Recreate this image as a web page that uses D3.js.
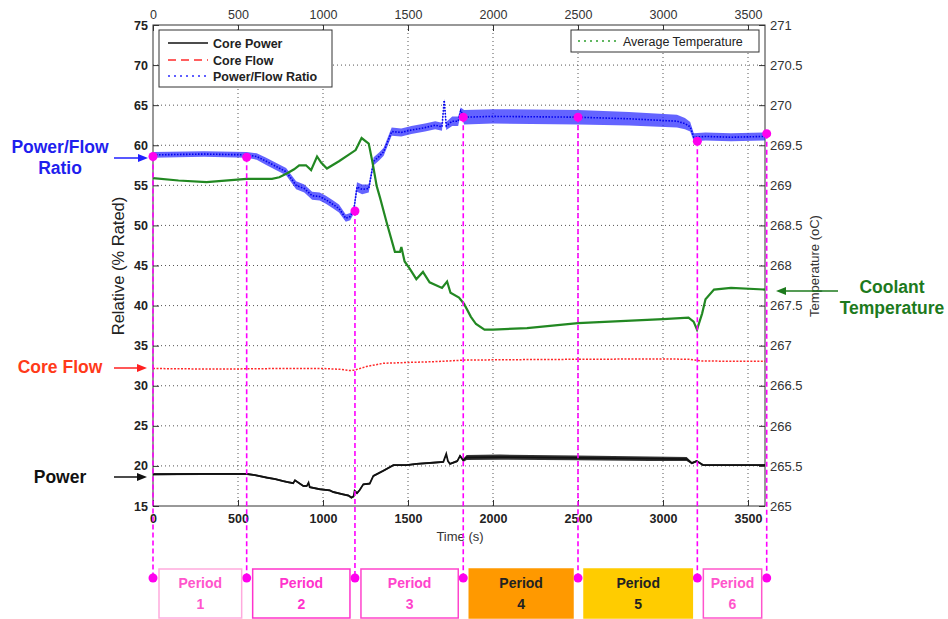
<!DOCTYPE html>
<html>
<head>
<meta charset="utf-8">
<script src="https://cdn.jsdelivr.net/npm/d3@7"></script>
<style>
body { margin: 0; background: #fff; }
text { font-family: "Liberation Sans", Arial, sans-serif; }
</style>
</head>
<body>
<div id="chart"></div>
<script>
// values
// time axis in seconds, left axis in % rated, right axis in deg C

var xTicks = [0, 500, 1000, 1500, 2000, 2500, 3000, 3500];
var leftTicks = [15, 20, 25, 30, 35, 40, 45, 50, 55, 60, 65, 70, 75];
var rightTicks = [265, 265.5, 266, 266.5, 267, 267.5, 268, 268.5, 269, 269.5, 270, 270.5, 271];

// Core Power (black)
var powerT = [0, 300, 551, 600, 668, 720, 766, 800, 825, 835, 884, 905, 915, 922, 980, 1040, 1059, 1118, 1150, 1167,
              1180, 1186, 1200, 1216, 1237, 1275, 1296, 1355, 1414, 1492, 1551, 1649, 1708, 1725, 1735, 1747, 1790, 1806, 1825, 1845,
              2040, 2492, 2923, 3139, 3170, 3198, 3236, 3600];
var powerV = [18.96, 19.0, 19.0, 18.85, 18.55, 18.35, 18.1, 17.95, 17.85, 18.2, 17.5, 17.5, 17.9, 17.35, 17.1, 16.95, 16.75, 16.45, 16.3, 16.05,
              16.2, 16.9, 16.6, 17.0, 17.7, 17.8, 18.75, 19.4, 20.1, 20.1, 20.25, 20.4, 20.5, 21.5, 20.6, 20.25, 20.6, 21.25, 20.7, 21.05,
              21.1, 21.0, 20.9, 20.85, 20.35, 20.6, 20.1, 20.1];
var powerSpread = [0.12, 0.12, 0.12, 0.12, 0.12, 0.12, 0.12, 0.12, 0.12, 0.12, 0.12, 0.12, 0.12, 0.12, 0.12, 0.12, 0.12, 0.12, 0.12, 0.12,
                   0.12, 0.12, 0.12, 0.12, 0.12, 0.12, 0.12, 0.12, 0.12, 0.12, 0.12, 0.12, 0.12, 0.12, 0.12, 0.12, 0.15, 0.15, 0.2, 0.3,
                   0.32, 0.3, 0.28, 0.25, 0.15, 0.12, 0.12, 0.12];

// Core Flow (red)
var flowT = [0, 250, 490, 750, 1000, 1100, 1157, 1186, 1255, 1355, 1492, 1649, 1745, 1835, 2100, 2500, 3002, 3159, 3218, 3400, 3600];
var flowV = [32.15, 32.1, 32.1, 32.15, 32.15, 32.05, 31.9, 31.95, 32.4, 32.8, 32.9, 33.0, 33.1, 33.2, 33.25, 33.3, 33.35, 33.3, 33.1, 33.05, 33.05];

// Power/Flow Ratio (blue)
var ratioT = [0, 300, 551, 610, 666, 720, 783, 842, 890, 936, 980, 1017, 1060, 1094, 1134, 1160, 1181, 1200, 1230, 1269,
              1298, 1330, 1357, 1404, 1460, 1520, 1600, 1660, 1700, 1713, 1725, 1760, 1795, 1810, 1830, 2000, 2500, 2800, 3082, 3129,
              3160, 3181, 3250, 3400, 3600];
var ratioV = [58.8, 58.9, 58.8, 58.6, 58.0, 57.4, 56.7, 55.0, 54.6, 53.7, 53.6, 53.2, 52.6, 52.1, 50.9, 51.1, 51.9, 54.8, 54.5, 54.6,
              58.0, 58.6, 59.2, 61.7, 61.6, 61.9, 62.2, 62.5, 62.3, 65.6, 62.4, 63.0, 63.0, 64.3, 63.5, 63.6, 63.5, 63.3, 63.0, 62.7,
              62.3, 61.0, 61.1, 61.0, 61.1];
var ratioSpread = [0.35, 0.35, 0.35, 0.4, 0.45, 0.45, 0.45, 0.5, 0.5, 0.5, 0.5, 0.5, 0.5, 0.5, 0.45, 0.45, 0.45, 0.6, 0.6, 0.5,
                   0.5, 0.5, 0.5, 0.5, 0.5, 0.5, 0.5, 0.5, 0.5, 0.2, 0.5, 0.6, 0.6, 0.4, 0.9, 0.9, 0.9, 0.85, 0.8, 0.7,
                   0.6, 0.5, 0.5, 0.5, 0.5];

// Average Temperature (green, right axis)
var tempT = [0, 150, 315, 550, 700, 743, 790, 830, 860, 900, 930, 965, 990, 1023, 1094, 1150, 1192, 1227, 1269, 1290,
             1316, 1335, 1374, 1423, 1453, 1461, 1480, 1510, 1549, 1588, 1600, 1627, 1700, 1730, 1750, 1800, 1830, 1870, 1900, 1950,
             2000, 2200, 2500, 3000, 3150, 3180, 3200, 3230, 3250, 3300, 3400, 3600];
var tempV = [269.09, 269.06, 269.04, 269.08, 269.08, 269.1, 269.15, 269.2, 269.25, 269.25, 269.19, 269.36, 269.28, 269.21, 269.3, 269.38, 269.44, 269.59, 269.52, 269.3,
             268.99, 268.85, 268.54, 268.17, 268.17, 268.23, 268.05, 267.96, 267.83, 267.92, 267.88, 267.79, 267.72, 267.8, 267.66, 267.6, 267.52, 267.36, 267.27, 267.2,
             267.2, 267.22, 267.28, 267.33, 267.35, 267.3, 267.2, 267.4, 267.58, 267.7, 267.72, 267.7];

// period boundaries and the marker value on the ratio curve
var periodT = [0, 551, 1188, 1825, 2500, 3202, 3610];
var periodDotV = [58.6, 58.5, 51.8, 63.5, 63.5, 60.5, 61.45];
var periodNames = ["1", "2", "3", "4", "5", "6"];
var periodFill = ["#ffffff", "#ffffff", "#ffffff", "#ff9900", "#ffcc00", "#ffffff"];
var periodStroke = ["#ffaadd", "#ff33cc", "#ff44cc", "#ff9900", "#ffcc00", "#ff55cc"];
var periodText = ["#ff55cc", "#ff33cc", "#ff44cc", "#222222", "#222222", "#ff55cc"];

// canvas
var svgWidth = 948;
var svgHeight = 619;
var plot = { left: 153, right: 765, top: 25, bottom: 506 };

var svg = d3.select("#chart")
    .append("svg")
    .attr("width", svgWidth)
    .attr("height", svgHeight);

var xScale = d3.scaleLinear().domain([0, 3600]).range([plot.left, plot.right]);
var yLeft = d3.scaleLinear().domain([15, 75]).range([plot.bottom, plot.top]);
var yRight = d3.scaleLinear().domain([265, 271]).range([plot.bottom, plot.top]);

// grid
var grid = svg.append("g").attr("class", "grid")
    .attr("stroke", "#555").attr("stroke-width", 1).attr("stroke-dasharray", "1,3");
grid.selectAll(".vg").data(xTicks.slice(1)).enter().append("line")
    .attr("x1", d => xScale(d)).attr("x2", d => xScale(d))
    .attr("y1", plot.top).attr("y2", plot.bottom);
grid.selectAll(".hg").data(leftTicks.slice(1, -1)).enter().append("line")
    .attr("x1", plot.left).attr("x2", plot.right)
    .attr("y1", d => yLeft(d)).attr("y2", d => yLeft(d));

// axes
var plain = d3.format("");

var axisBottom = svg.append("g")
    .attr("transform", `translate(0, ${plot.bottom})`)
    .call(d3.axisBottom(xScale).tickValues(xTicks).tickFormat(plain).tickSize(-6).tickPadding(8));
axisBottom.selectAll("text").attr("font-size", 12.5).attr("font-weight", "bold").attr("fill", "#222");

var axisTop = svg.append("g")
    .attr("transform", `translate(0, ${plot.top})`)
    .call(d3.axisTop(xScale).tickValues(xTicks).tickFormat(plain).tickSize(-6).tickPadding(6));
axisTop.selectAll("text").attr("font-size", 12.5).attr("fill", "#333");

var axisLeft = svg.append("g")
    .attr("transform", `translate(${plot.left}, 0)`)
    .call(d3.axisLeft(yLeft).tickValues(leftTicks).tickSize(-6).tickPadding(5));
axisLeft.selectAll("text").attr("font-size", 12.5).attr("font-weight", "bold").attr("fill", "#222");

var axisRight = svg.append("g")
    .attr("transform", `translate(${plot.right}, 0)`)
    .call(d3.axisRight(yRight).tickValues(rightTicks).tickFormat(plain).tickSize(-6).tickPadding(5));
axisRight.selectAll("text").attr("font-size", 13).attr("fill", "#333");

svg.selectAll(".domain").remove();
svg.selectAll(".tick line").attr("stroke", "#333");

svg.append("rect")
    .attr("x", plot.left).attr("y", plot.top)
    .attr("width", plot.right - plot.left).attr("height", plot.bottom - plot.top)
    .attr("fill", "none").attr("stroke", "#333").attr("stroke-width", 1);

// axis titles
svg.append("text").attr("x", 460).attr("y", 541).attr("text-anchor", "middle")
    .attr("font-size", 13).attr("fill", "#333").text("Time (s)");
svg.append("text").attr("transform", "translate(124, 266) rotate(-90)").attr("text-anchor", "middle")
    .attr("font-size", 16.5).attr("fill", "#222").text("Relative (% Rated)");
svg.append("text").attr("transform", "translate(819, 266) rotate(-90)").attr("text-anchor", "middle")
    .attr("font-size", 13).attr("fill", "#333").text("Temperature (oC)");

// series
var ratioData = ratioT.map((t, i) => ({ t: t, v: ratioV[i], s: ratioSpread[i] }));
var powerData = powerT.map((t, i) => ({ t: t, v: powerV[i], s: powerSpread[i] }));
var flowData = flowT.map((t, i) => ({ t: t, v: flowV[i] }));
var tempData = tempT.map((t, i) => ({ t: t, v: tempV[i] }));

var band = d3.area()
    .x(d => xScale(d.t))
    .y0(d => yLeft(d.v - d.s))
    .y1(d => yLeft(d.v + d.s));
var leftLine = d3.line().x(d => xScale(d.t)).y(d => yLeft(d.v));
var rightLine = d3.line().x(d => xScale(d.t)).y(d => yRight(d.v));

svg.append("path").datum(ratioData).attr("d", band)
    .attr("fill", "#2222ff").attr("fill-opacity", 0.7);
svg.append("path").datum(ratioData).attr("d", leftLine)
    .attr("fill", "none").attr("stroke", "#0000ee").attr("stroke-width", 1.6).attr("stroke-dasharray", "1.5,1.5");

svg.append("path").datum(tempData).attr("d", rightLine)
    .attr("fill", "none").attr("stroke", "#228822").attr("stroke-width", 2.2);

svg.append("path").datum(flowData).attr("d", leftLine)
    .attr("fill", "none").attr("stroke", "#ff2a2a").attr("stroke-width", 1.5).attr("stroke-dasharray", "2,1.5");

svg.append("path").datum(powerData).attr("d", band)
    .attr("fill", "#111").attr("fill-opacity", 0.85);
svg.append("path").datum(powerData).attr("d", leftLine)
    .attr("fill", "none").attr("stroke", "#111").attr("stroke-width", 1.8);

// legends
var leg1 = svg.append("g");
leg1.append("rect").attr("x", 159).attr("y", 30).attr("width", 173).attr("height", 57)
    .attr("fill", "#fff").attr("stroke", "#333");
var legItems = [
    { label: "Core Power", color: "#111", dash: null, y: 43 },
    { label: "Core Flow", color: "#ff2a2a", dash: "8,5", y: 60 },
    { label: "Power/Flow Ratio", color: "#2a2aff", dash: "2,4", y: 76 }
];
legItems.forEach(function(d) {
    leg1.append("line").attr("x1", 168).attr("x2", 208).attr("y1", d.y).attr("y2", d.y)
        .attr("stroke", d.color).attr("stroke-width", 1.6).attr("stroke-dasharray", d.dash);
    leg1.append("text").attr("x", 213).attr("y", d.y + 4.5)
        .attr("font-size", 12.5).attr("font-weight", "bold").attr("fill", "#222").text(d.label);
});

var leg2 = svg.append("g");
leg2.append("rect").attr("x", 571).attr("y", 30).attr("width", 188).attr("height", 22)
    .attr("fill", "#fff").attr("stroke", "#333");
leg2.append("line").attr("x1", 578).attr("x2", 618).attr("y1", 41).attr("y2", 41)
    .attr("stroke", "#2ea02e").attr("stroke-width", 1.5).attr("stroke-dasharray", "2,4");
leg2.append("text").attr("x", 623).attr("y", 45.5)
    .attr("font-size", 12.5).attr("fill", "#222").text("Average Temperature");

// period markers
var dotBottom = 578;
svg.selectAll(".pline").data(periodT).enter().append("line")
    .attr("x1", d => xScale(d)).attr("x2", d => xScale(d))
    .attr("y1", (d, i) => yLeft(periodDotV[i])).attr("y2", dotBottom)
    .attr("stroke", "#ff00ff").attr("stroke-width", 1.6).attr("stroke-dasharray", "5,3");
svg.selectAll(".pdot").data(periodT).enter().append("circle")
    .attr("cx", d => xScale(d)).attr("cy", (d, i) => yLeft(periodDotV[i])).attr("r", 4.5)
    .attr("fill", "#ff00ee");
svg.selectAll(".bdot").data(periodT).enter().append("circle")
    .attr("cx", d => xScale(d)).attr("cy", dotBottom).attr("r", 4.5)
    .attr("fill", "#ff00ee");

var boxes = svg.selectAll(".pbox").data(periodNames).enter().append("g");
boxes.append("rect")
    .attr("x", (d, i) => xScale(periodT[i]) + 6)
    .attr("y", 569)
    .attr("width", (d, i) => xScale(periodT[i + 1]) - xScale(periodT[i]) - 11)
    .attr("height", 49)
    .attr("fill", (d, i) => periodFill[i])
    .attr("stroke", (d, i) => periodStroke[i]).attr("stroke-width", 1.5);
boxes.append("text")
    .attr("x", (d, i) => (xScale(periodT[i]) + xScale(periodT[i + 1])) / 2 + 0.5)
    .attr("y", 588).attr("text-anchor", "middle")
    .attr("font-size", 14).attr("font-weight", "bold")
    .attr("fill", (d, i) => periodText[i]).text("Period");
boxes.append("text")
    .attr("x", (d, i) => (xScale(periodT[i]) + xScale(periodT[i + 1])) / 2 + 0.5)
    .attr("y", 609).attr("text-anchor", "middle")
    .attr("font-size", 14).attr("font-weight", "bold")
    .attr("fill", (d, i) => periodText[i]).text(d => d);

// side annotations with arrows
function arrow(x1, x2, y, color) {
    var dir = x2 > x1 ? 1 : -1;
    svg.append("line").attr("x1", x1).attr("x2", x2 - dir * 8).attr("y1", y).attr("y2", y)
        .attr("stroke", color).attr("stroke-width", 1.5);
    svg.append("path")
        .attr("d", `M${x2},${y} L${x2 - dir * 10},${y - 4} L${x2 - dir * 10},${y + 4} Z`)
        .attr("fill", color);
}

svg.append("text").attr("x", 60).attr("y", 153).attr("text-anchor", "middle")
    .attr("font-size", 17.5).attr("font-weight", "bold").attr("fill", "#1f1fee").text("Power/Flow");
svg.append("text").attr("x", 60).attr("y", 174).attr("text-anchor", "middle")
    .attr("font-size", 17.5).attr("font-weight", "bold").attr("fill", "#1f1fee").text("Ratio");
arrow(114, 148, 158, "#2020ff");

svg.append("text").attr("x", 60).attr("y", 373).attr("text-anchor", "middle")
    .attr("font-size", 17.5).attr("font-weight", "bold").attr("fill", "#ff3a1a").text("Core Flow");
arrow(114, 147, 368, "#ff2020");

svg.append("text").attr("x", 60).attr("y", 483).attr("text-anchor", "middle")
    .attr("font-size", 17.5).attr("font-weight", "bold").attr("fill", "#111").text("Power");
arrow(114, 147, 477, "#111");

svg.append("text").attr("x", 892).attr("y", 293).attr("text-anchor", "middle")
    .attr("font-size", 17.5).attr("font-weight", "bold").attr("fill", "#1d7a1d").text("Coolant");
svg.append("text").attr("x", 892).attr("y", 314).attr("text-anchor", "middle")
    .attr("font-size", 17.5).attr("font-weight", "bold").attr("fill", "#1d7a1d").text("Temperature");
arrow(838, 776, 291, "#1d7a1d");
</script>
</body>
</html>
